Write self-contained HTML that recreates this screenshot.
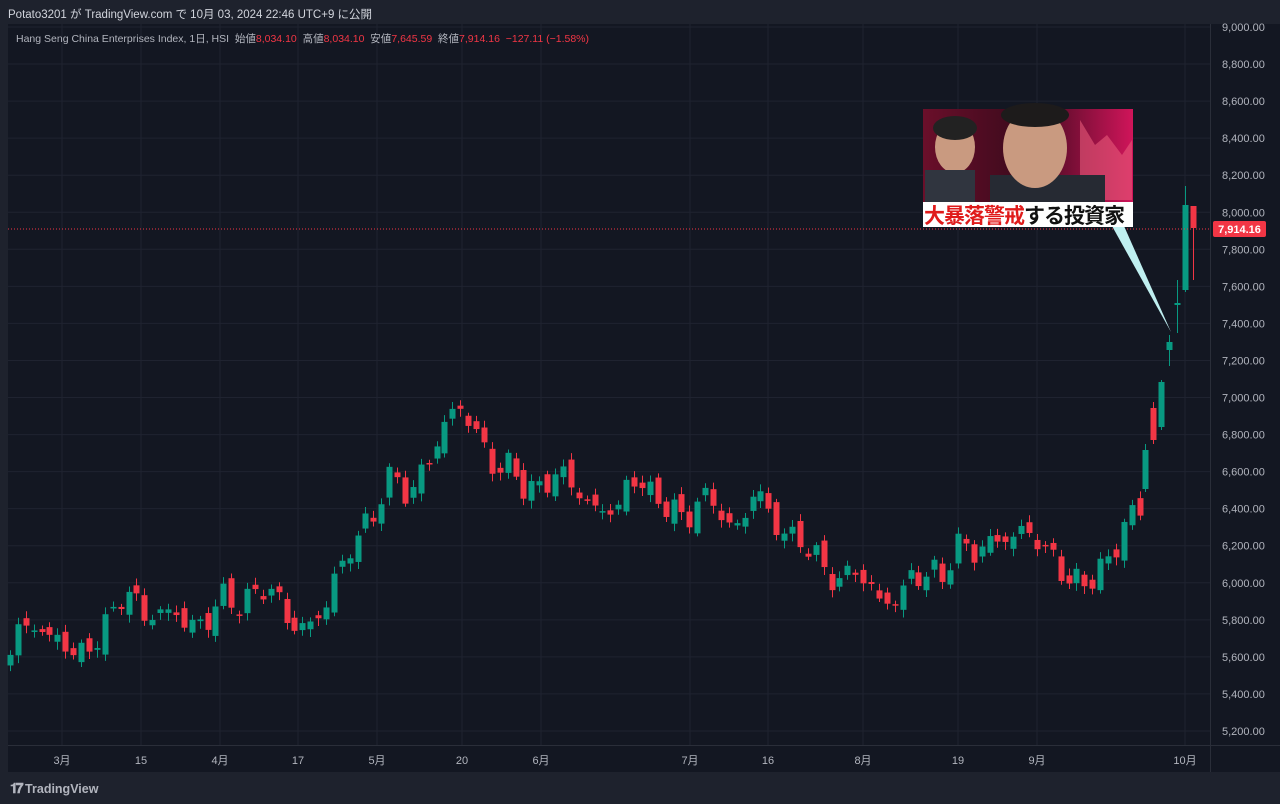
<!DOCTYPE html>
<html><head><meta charset="utf-8"><style>
body{margin:0;width:1280px;height:804px;background:#1e222d;overflow:hidden;font-family:"Liberation Sans","Noto Sans CJK JP",sans-serif;}
#top{position:absolute;left:8px;top:6px;color:#d1d4dc;font-size:11.5px;}
#panel{position:absolute;left:8px;top:24px;width:1272px;height:748px;background:#131722;}
#leg{position:absolute;left:16px;top:31px;font-size:10.5px;color:#b2b5be;white-space:nowrap}
#leg .r{color:#f23645}
#foot{position:absolute;left:10px;top:780px;color:#b2b5be;font-size:12.5px;font-weight:bold}
</style></head><body>
<div id="top">Potato3201 が TradingView.com で 10月 03, 2024 22:46 UTC+9 に公開</div>
<div id="panel"></div>
<svg id="s" width="1280" height="804" style="position:absolute;left:0;top:0"></svg>
<div id="leg">Hang Seng China Enterprises Index, 1日, HSI &nbsp;始値<span class="r">8,034.10</span> &nbsp;高値<span class="r">8,034.10</span> &nbsp;安値<span class="r">7,645.59</span> &nbsp;終値<span class="r">7,914.16 &nbsp;−127.11 (−1.58%)</span></div>
<div id="foot"><span style="font-size:14px;letter-spacing:-2px">𝟏𝟕</span> TradingView</div>
<script>
const s=document.getElementById('s');let h='';
const Y=p=>27+(9000-p)*0.18526;
// grid
for(let p=5200;p<=9000;p+=200){const y=Y(p);h+=`<line x1="8" x2="1210" y1="${y}" y2="${y}" stroke="#1f2330"/>`;
h+=`<text x="1222" y="${y+4}" fill="#b2b5be" font-size="11">${p.toLocaleString('en-US')}.00</text>`;}
const mx=[[62,'3月'],[141,'15'],[220,'4月'],[298,'17'],[377,'5月'],[462,'20'],[541,'6月'],[690,'7月'],[768,'16'],[863,'8月'],[958,'19'],[1037,'9月'],[1185,'10月']];
for(const [x,t] of mx){h+=`<line x1="${x}" x2="${x}" y1="24" y2="745" stroke="#1f2330"/><text x="${x}" y="764" fill="#b2b5be" font-size="11" text-anchor="middle">${t}</text>`;}
h+=`<line x1="8" x2="1280" y1="745.5" y2="745.5" stroke="#2a2e39"/><line x1="1210.5" x2="1210.5" y1="24" y2="772" stroke="#2a2e39"/>`;
const W=[[10,650],[18,630],[40,625],[48,640],[64,640],[78,660],[94,640],[110,620],[118,595],[130,595],[145,615],[160,615],[175,610],[185,625],[205,625],[220,595],[235,605],[250,600],[262,585],[275,595],[285,615],[298,630],[310,625],[322,610],[330,595],[336,570],[345,565],[352,540],[360,530],[370,525],[378,505],[385,478],[395,480],[410,495],[418,480],[424,468],[432,450],[440,435],[448,420],[455,408],[462,405],[470,425],[480,440],[490,462],[500,470],[512,465],[520,480],[528,495],[536,490],[545,480],[560,475],[568,478],[578,492],[590,510],[605,508],[620,510],[628,480],[636,475],[648,495],[660,500],[672,510],[685,520],[700,500],[710,495],[718,510],[727,525],[735,530],[745,515],[752,490],[760,495],[770,520],[784,530],[795,545],[805,540],[815,555],[825,575],[840,580],[855,570],[870,585],[880,605],[890,600],[900,595],[910,578],[930,572],[942,578],[950,558],[958,545],[968,550],[976,550],[990,545],[1000,535],[1015,540],[1025,525],[1035,540],[1045,550],[1055,560],[1065,578],[1080,585],[1090,578],[1100,570],[1110,560],[1118,540],[1125,520],[1134,512],[1140,512]];
function iy(x){for(let i=0;i<W.length-1;i++){if(x<=W[i+1][0]){const [a,b]=W[i],[c,d]=W[i+1];return b+(d-b)*(x-a)/(c-a);}}return W[W.length-1][1];}
const G='#089981',R='#f23645';
function cd(x,o,c,hi,lo){const col=c<=o?G:R;const t=Math.min(o,c),b=Math.max(o,c);
h+=`<line x1="${x}" x2="${x}" y1="${hi}" y2="${lo}" stroke="${col}"/><rect x="${x-3}" y="${t}" width="6" height="${Math.max(1.5,b-t)}" fill="${col}"/>`;}
let prev=660;
for(let x=10;x<=1141;x+=7.9){const c=iy(x)+10*Math.sin(x*1.37)+5*Math.sin(x*0.53);
let o=prev+7*Math.sin(x*2.11);cd(Math.round(x)+.5,o,c,Math.min(o,c)-3-4*Math.abs(Math.sin(x*3.1)),Math.max(o,c)+3+5*Math.abs(Math.cos(x*2.3)));prev=c;}
cd(1145.5,489,450,444,492);cd(1153.5,408,440,402,444);cd(1161.5,427,382,380,430);
cd(1169.5,350,342,335,366);cd(1177.5,305,303,280,333);cd(1185.5,290,205,186,292);cd(1193.5,206,228,206,280);
h+=`<line x1="8" x2="1210" y1="229" y2="229" stroke="#f23645" stroke-dasharray="1 2"/>`;
h+=`<rect x="1213" y="221" width="53" height="16" rx="2" fill="#f23645"/><text x="1239.5" y="233" fill="#fff" font-size="11" font-weight="bold" text-anchor="middle">7,914.16</text>`;
// thumbnail
h+=`<defs><linearGradient id="bg" x1="0" x2="1"><stop offset="0" stop-color="#6a0f2a"/><stop offset=".5" stop-color="#3a0a1c"/><stop offset="1" stop-color="#d0155a"/></linearGradient></defs>
<polygon points="1112,226 1124,226 1171,332" fill="#bfeff0"/>
<rect x="923" y="109" width="210" height="93" fill="url(#bg)"/>
<path d="M1080 120 l15 25 l12 -10 l15 20 l10 -15 v60 h-52z" fill="#e85a7a" opacity=".6"/>
<ellipse cx="955" cy="147" rx="20" ry="26" fill="#c99a80"/><rect x="925" y="170" width="50" height="32" fill="#30353f"/>
<ellipse cx="955" cy="128" rx="22" ry="12" fill="#222"/>
<rect x="990" y="175" width="115" height="27" fill="#262a33"/><ellipse cx="1035" cy="148" rx="32" ry="40" fill="#c99a80"/>
<ellipse cx="1035" cy="115" rx="34" ry="12" fill="#1d1b1b"/>
<rect x="923" y="202" width="210" height="25" fill="#fff"/>
<text x="924" y="223" font-size="21" font-weight="bold" fill="#e01b1b" font-family="Noto Sans CJK JP,sans-serif" letter-spacing="-1">大暴落警戒<tspan fill="#111">する投資家</tspan></text>`;
s.innerHTML=h;
</script>
</body></html>
